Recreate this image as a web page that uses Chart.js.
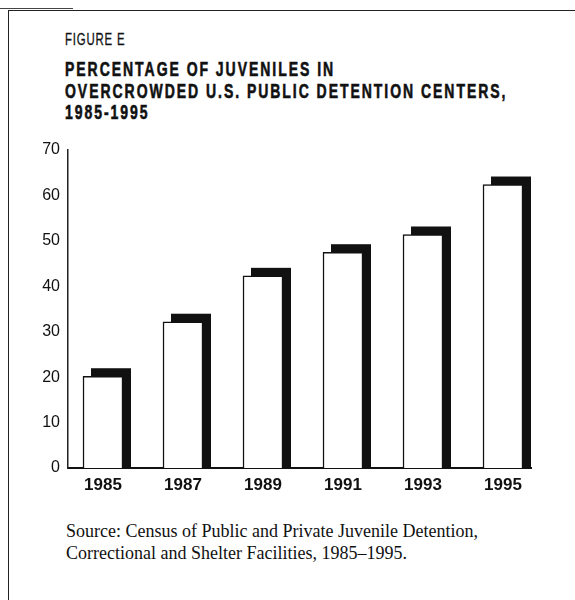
<!DOCTYPE html>
<html>
<head>
<meta charset="utf-8">
<script src="https://cdn.jsdelivr.net/npm/chart.js@4"></script>
<style>
  html, body { margin: 0; padding: 0; background: #fff; }
  body { width: 575px; height: 600px; position: relative; overflow: hidden; }
  .frame { position: absolute; left: 8px; top: 10px; width: 580px; height: 600px;
           border-left: 1.5px solid #222; border-top: 1.5px solid #222; }
  .tab { position: absolute; left: 0; top: 8px; width: 73px; height: 1px; background: #444; }
  .narrow { font-family: "Liberation Sans", Arial, sans-serif; color: #111; position: absolute;
            left: 65px; white-space: nowrap; transform-origin: 0 0; }
  #fig { top: 31px; font-size: 16.5px; line-height: 16px; letter-spacing: 1.2px; transform: scaleX(0.69);
         -webkit-text-stroke: 0.3px #111; }
  #title { top: 59px; font-size: 20px; line-height: 21.5px; font-weight: bold; letter-spacing: 2.8px;
           transform: scaleX(0.7); -webkit-text-stroke: 0.6px #111; }
  #source { position: absolute; left: 66px; top: 520px; font-family: "Liberation Serif", "DejaVu Serif", serif;
            font-size: 18px; line-height: 22px; color: #111; white-space: nowrap; }
  #wrap { position: absolute; left: 0; top: 130px; width: 575px; height: 370px; }
</style>
</head>
<body>
<div class="tab"></div>
<div class="frame"></div>
<div id="fig" class="narrow">FIGURE E</div>
<div id="title" class="narrow">PERCENTAGE OF JUVENILES IN<br>OVERCROWDED U.S. PUBLIC DETENTION CENTERS,<br>1985-1995</div>
<div id="wrap"><canvas id="barChart"></canvas></div>
<div id="source">Source: Census of Public and Private Juvenile Detention,<br>Correctional and Shelter Facilities, 1985–1995.</div>

<script>
const years = [1985, 1987, 1989, 1991, 1993, 1995];
const percents = [20.2, 32.2, 42.3, 47.5, 51.4, 62.4];
const yTicks = [0, 10, 20, 30, 40, 50, 60, 70];

const labelFont = '"Liberation Sans", Arial, sans-serif';

// black block behind each bar, shifted up and right
const dropBlock = {
  id: "dropBlock",
  beforeDatasetsDraw(chart) {
    const ctx = chart.ctx;
    const shift = 8;
    ctx.save();
    ctx.fillStyle = "#111";
    chart.getDatasetMeta(0).data.forEach(function(bar) {
      const left = bar.x - bar.width / 2 + shift;
      ctx.fillRect(left, bar.y - shift, bar.width, bar.base - bar.y + shift);
    });
    ctx.restore();
  }
};

const canvas = document.getElementById("barChart");

new Chart(canvas, {
  type: "bar",
  data: {
    datasets: [
      {
        data: years.map((yr, i) => ({ x: yr, y: percents[i] })),
        backgroundColor: "#fff",
        borderColor: "#111",
        borderWidth: 1.5,
        barThickness: 40,
      },
    ],
  },
  options: {
    responsive: true,
    maintainAspectRatio: false,
    animation: false,
    layout: { padding: { top: 20, right: 44, left: 0, bottom: 0 } },
    scales: {
      x: {
        type: "linear",
        offset: false,
        min: 1984.125,
        max: 1995.7,
        afterBuildTicks: function(scale) {
          scale.ticks = years.map(v => ({ value: v }));
        },
        afterFit: function(scale) { scale.height = 32; },
        ticks: {
          color: "#111",
          padding: 7,
          font: { family: labelFont, size: 17, weight: "bold" },
          callback: function(value) { return String(value); },
        },
        grid: { display: false, drawTicks: false },
        border: { color: "#111", width: 2 },
      },
      y: {
        min: 0,
        max: 70,
        afterBuildTicks: function(scale) {
          scale.ticks = yTicks.map(v => ({ value: v }));
        },
        afterFit: function(scale) { scale.width = 68; },
        ticks: {
          color: "#111",
          padding: 8,
          font: { family: labelFont, size: 16 },
        },
        grid: { display: false, drawTicks: false },
        border: { color: "#222", width: 1.5 },
      },
    },
    plugins: { legend: { display: false }, tooltip: { enabled: false } },
  },
  plugins: [dropBlock],
});
</script>
</body>
</html>
